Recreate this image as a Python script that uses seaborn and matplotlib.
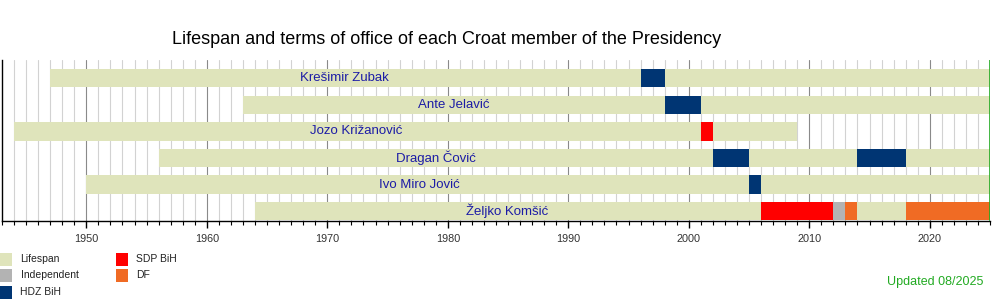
import matplotlib
matplotlib.use("Agg")
import matplotlib.pyplot as plt
from matplotlib.patches import Rectangle
from matplotlib.ticker import MultipleLocator
import seaborn as sns
import pandas as pd

# ---- data ----
names = ["Krešimir Zubak", "Ante Jelavić", "Jozo Križanović",
         "Dragan Čović", "Ivo Miro Jović", "Željko Komšić"]
born = [1947, 1963, 1944, 1956, 1950, 1964]
died = [2025, 2025, 2009, 2025, 2025, 2025]   # 2025 = still alive (chart end)

term_person = ["Krešimir Zubak", "Ante Jelavić", "Jozo Križanović",
               "Dragan Čović", "Ivo Miro Jović", "Željko Komšić",
               "Željko Komšić", "Željko Komšić", "Dragan Čović", "Željko Komšić"]
term_start = [1996, 1998, 2001, 2002, 2005, 2006, 2012, 2013, 2014, 2018]
term_end = [1998, 2001, 2002, 2005, 2006, 2012, 2013, 2014, 2018, 2025]
term_party = ["HDZ BiH", "HDZ BiH", "SDP BiH", "HDZ BiH", "HDZ BiH",
              "SDP BiH", "Independent", "DF", "HDZ BiH", "DF"]

legend_labels = ["Lifespan", "Independent", "HDZ BiH", "SDP BiH", "DF"]
colors = {"Lifespan": "#dfe4bb", "Independent": "#b3b3b3", "HDZ BiH": "#003573",
          "SDP BiH": "#ff0000", "DF": "#f06b24"}

title = "Lifespan and terms of office of each Croat member of the Presidency"
updated = "Updated 08/2025"
label_x = [1971.4, 1980.5, 1972.4, 1979.0, 1977.6, 1984.9]

# ---- style ----
sns.set_style("white")
plt.rcParams["font.family"] = ["Liberation Sans", "DejaVu Sans"]

fig = plt.figure(figsize=(10, 3), dpi=100)
ax = fig.add_axes([0.002, 0.2633, 0.988, 0.5367])

life = pd.DataFrame({"name": names, "born": born, "died": died})
life["dur"] = life["died"] - life["born"]

bar_h = 0.69
sns.barplot(data=life, x="dur", y="name", order=names, orient="y",
            left=life["born"].values, color=colors["Lifespan"], width=bar_h,
            errorbar=None, saturation=1, linewidth=0, ax=ax, zorder=3)

terms = pd.DataFrame({"name": term_person, "start": term_start,
                      "end": term_end, "party": term_party})
for _, r in terms.iterrows():
    sns.barplot(x=[r["end"] - r["start"]], y=[r["name"]], order=names, orient="y",
                left=r["start"], color=colors[r["party"]], width=bar_h,
                errorbar=None, saturation=1, linewidth=0, ax=ax, zorder=4)

for nm, lx in zip(names, label_x):
    ax.text(lx, names.index(nm), nm, ha="center", va="center",
            fontsize=9.5, color="#1c1ca6", zorder=5)

ax.set_xlim(1943, 2025)
ax.set_ylim(5.37, -0.685)
ax.set_xlabel("")
ax.set_ylabel("")
ax.set_yticks([])

ax.xaxis.set_major_locator(MultipleLocator(10))
ax.xaxis.set_minor_locator(MultipleLocator(1))
ax.set_xticks(range(1950, 2021, 10))
ax.tick_params(axis="x", which="major", length=5, width=1, color="black",
               labelsize=7.8, labelcolor="#333333", pad=4, bottom=True)
ax.tick_params(axis="x", which="minor", length=3, width=0.8, color="black", bottom=True)

ax.grid(False)
for yr in range(1944, 2025):
    c = "#8a8a8a" if yr % 10 == 0 else "#d2d2d2"
    ax.axvline(yr, color=c, lw=0.8, zorder=1)

for s in ["top", "right"]:
    ax.spines[s].set_visible(False)
ax.spines["left"].set_color("black")
ax.spines["left"].set_linewidth(1)
ax.spines["bottom"].set_color("black")
ax.spines["bottom"].set_linewidth(1)
ax.axvline(2025, color="#22aa22", lw=1.2, zorder=6)

fig.text(0.447, 0.867, title, ha="center", va="center", fontsize=13, color="black")

# legend
leg_pos = [(0, 0), (0, 1), (0, 2), (1, 0), (1, 1)]
for lab, (col, row) in zip(legend_labels, leg_pos):
    x0 = 0.0 + col * 0.116
    yc = 1 - (259 + row * 16.5) / 300
    fig.add_artist(Rectangle((x0, yc - 6.5 / 300), 0.0115, 13 / 300,
                             transform=fig.transFigure, color=colors[lab], lw=0))
    fig.text(x0 + 0.0205, yc, lab, ha="left", va="center", fontsize=7.5, color="#222222")

fig.text(0.983, 1 - 282 / 300, updated, ha="right", va="center", fontsize=9, color="#22aa22")

fig.savefig("out.png", dpi=100)
